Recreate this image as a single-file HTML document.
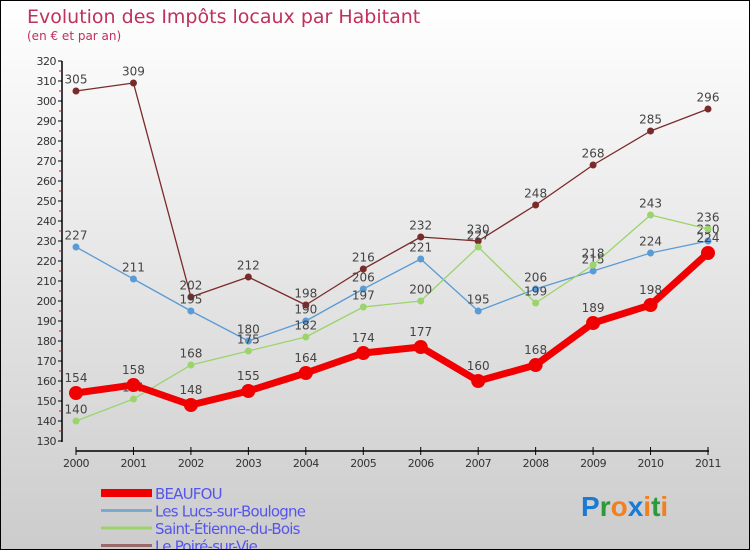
<!DOCTYPE html>
<html><head><meta charset="utf-8"><style>
body{margin:0}
#c{width:750px;height:550px;position:relative;box-sizing:border-box;border:1px solid #000;background:linear-gradient(#fff,#ccc);font-family:"DejaVu Sans","Liberation Sans",sans-serif;overflow:hidden}
</style></head><body>
<div id="c">
<svg id="s" width="750" height="550" style="position:absolute;left:0;top:0"></svg>
</div>
<script>
const years=['2000','2001','2002','2003','2004','2005','2006','2007','2008','2009','2010','2011'];
const beaufou=[154,158,148,155,164,174,177,160,168,189,198,224];
const lucs=[227,211,195,180,190,206,221,195,206,215,224,230];
const etienne=[140,151,168,175,182,197,200,227,199,218,243,236];
const poire=[305,309,202,212,198,216,232,230,248,268,285,296];
const yTicks=[130,140,150,160,170,180,190,200,210,220,230,240,250,260,270,280,290,300,310,320];
const seriesNames=['BEAUFOU','Les Lucs-sur-Boulogne','Saint-Étienne-du-Bois','Le Poiré-sur-Vie'];
const NS='http://www.w3.org/2000/svg';
const s=document.getElementById('s');
const X=i=>75+i*(632/11);
const Y=v=>440-(v-130)*2;
function mk(t,a,txt){const e=document.createElementNS(NS,t);for(const k in a)e.setAttribute(k,a[k]);if(txt!==undefined)e.textContent=txt;s.appendChild(e);return e;}
let e;
e=mk('text',{x:26,y:22,'font-size':19,fill:'#c0305a'},'Evolution des Impôts locaux par Habitant');


e=mk('text',{x:26,y:39,'font-size':12,fill:'#c0305a'},'(en € et par an)');


e=mk('line',{x1:61,y1:60,x2:61,y2:441,stroke:'#000','stroke-width':1.5});


yTicks.forEach((v,i)=>{
 mk('line',{x1:57,y1:Y(v),x2:61,y2:Y(v),stroke:'#000'});
 if(i<yTicks.length-1)mk('line',{x1:58,y1:Y(v+5),x2:61,y2:Y(v+5),stroke:'#e00'});
 e=mk('text',{x:55,y:Y(v)+4,'font-size':11,fill:'#333','text-anchor':'end','letter-spacing':'-0.5'},v);
 
 
});
e=mk('line',{x1:75,y1:450,x2:708,y2:450,stroke:'#000','stroke-width':1.5});


years.forEach((y,i)=>{
 mk('line',{x1:X(i),y1:446,x2:X(i),y2:454,stroke:'#000'});
 e=mk('text',{x:X(i),y:466,'font-size':11,fill:'#333','text-anchor':'middle','letter-spacing':'-0.5'},y);
 
 
});
function series(d,col,w,r,name,fs){
 const g=document.createElementNS(NS,'g');s.appendChild(g);
 
 
 const p=document.createElementNS(NS,'polyline');
 p.setAttribute('points',d.map((v,i)=>X(i)+','+Y(v)).join(' '));
 p.setAttribute('fill','none');p.setAttribute('stroke',col);p.setAttribute('stroke-width',w);p.setAttribute('stroke-linejoin','round');
 g.appendChild(p);
 d.forEach((v,i)=>{
  const c=document.createElementNS(NS,'circle');
  c.setAttribute('cx',X(i));c.setAttribute('cy',Y(v));c.setAttribute('r',r);c.setAttribute('fill',col);
  
  
  g.appendChild(c);
  const t=document.createElementNS(NS,'text');
  t.setAttribute('x',X(i));t.setAttribute('y',Y(v)-(r+4));t.setAttribute('font-size',fs);t.setAttribute('fill','#444');t.setAttribute('text-anchor','middle');
  t.textContent=v;
  
  
  g.appendChild(t);
 });
}
series(poire,'#7a2a2a',1.3,3.5,'series-le-poire',12);
series(lucs,'#5b9bd5',1.3,3.5,'series-les-lucs',12);
series(etienne,'#9ad46a',1.3,3.5,'series-saint-etienne',12);
series(beaufou,'#f00000',7,7,'series-beaufou',12);
const legCols=['#f00000','#7aaad0','#9ad46a','#9a6a6a'];
const legW=[8,3,3,3];
seriesNames.forEach((n,i)=>{
 const y=492+i*17.5;
 e=mk('line',{x1:100,y1:y,x2:151,y2:y,stroke:legCols[i],'stroke-width':legW[i]});
 
 
 e=mk('text',{x:154,y:y+6,'font-size':15,fill:'#5555ee','letter-spacing':'-0.8'},n);
 
 
});
e=mk('text',{x:580,y:515,'font-size':28,'font-weight':'bold','font-family':'"Liberation Sans",sans-serif'},'');


[['P','#1a7ad4'],['r','#2a9a3a'],['o','#f08020'],['x','#1a7ad4'],['i','#f08020'],['t','#2a9a3a'],['i','#f08020']].forEach(([c,col])=>{
 const t=document.createElementNS(NS,'tspan');t.setAttribute('fill',col);t.textContent=c;e.appendChild(t);
});
</script>
</body></html>
